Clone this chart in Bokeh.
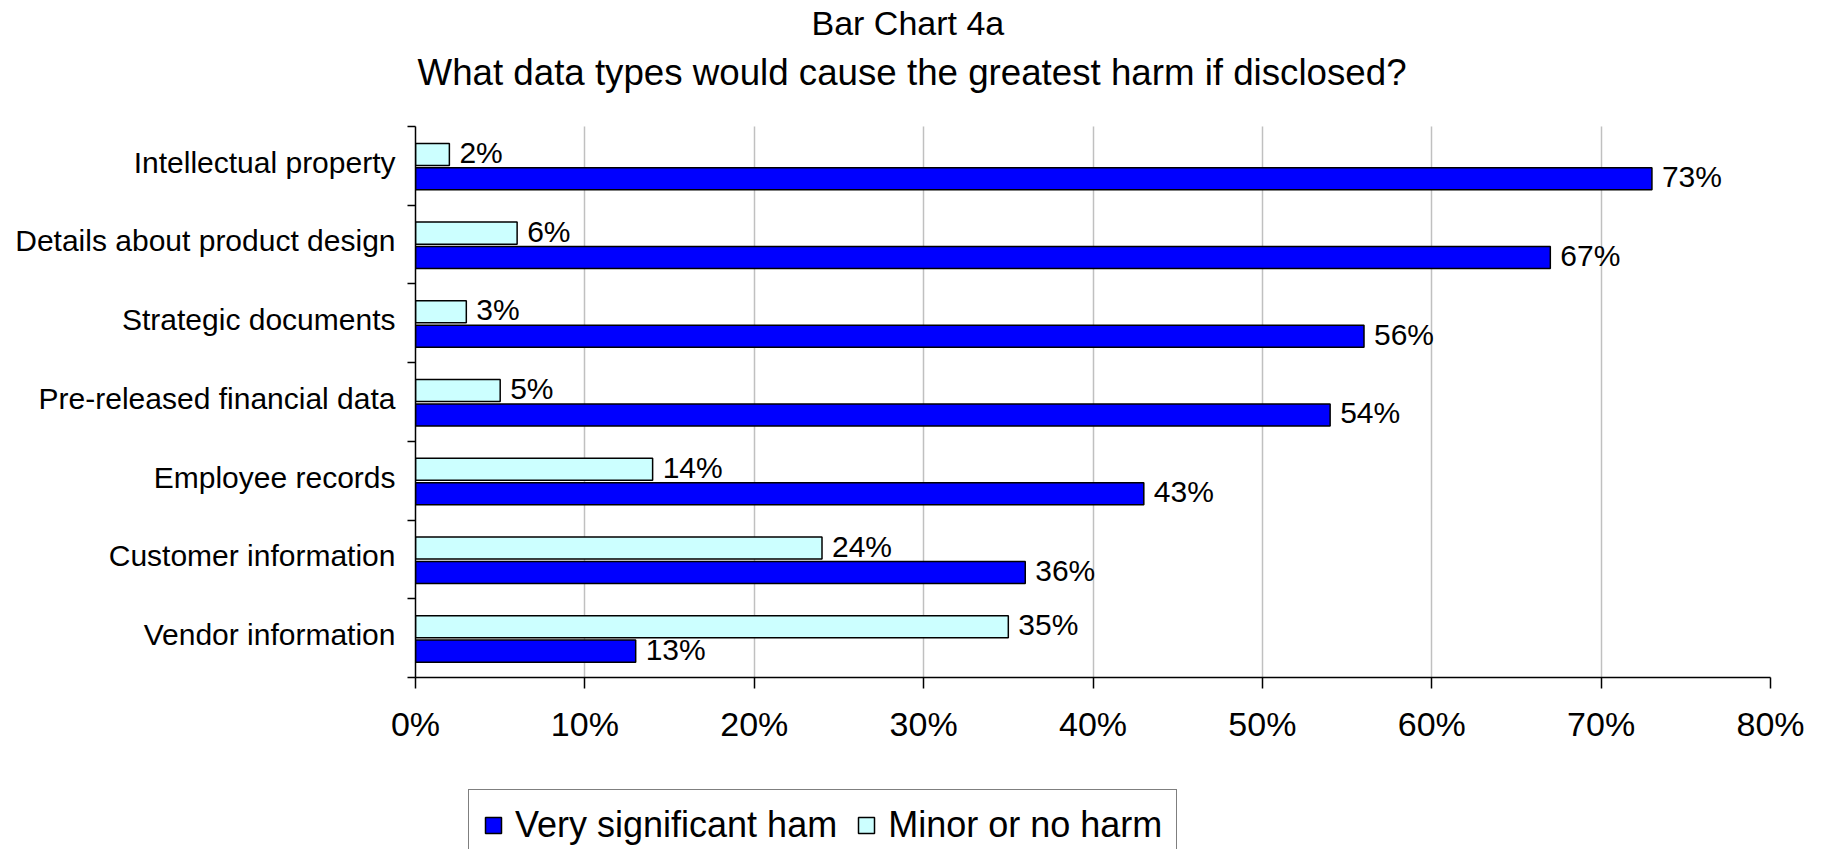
from bokeh.plotting import figure
from bokeh.layouts import column
from bokeh.models import (Range1d, FixedTicker, PrintfTickFormatter, Legend,
                          LegendItem, Title, ColumnDataSource)
from bokeh.core.properties import value
from bokeh.embed import file_html
from bokeh.resources import INLINE

# ---- data ----
categories = ["Intellectual property", "Details about product design",
              "Strategic documents", "Pre-released financial data",
              "Employee records", "Customer information", "Vendor information"]
very_significant = [73, 67, 56, 54, 43, 36, 13]
minor_or_none = [2, 6, 3, 5, 14, 24, 35]
x_ticks = [0, 10, 20, 30, 40, 50, 60, 70, 80]
series_names = ["Very significant ham", "Minor or no harm"]

FONT = "Liberation Sans"
BLUE = "#0000FF"
CYAN = "#CCFFFF"

n = len(categories)
centers = [n - i - 0.5 for i in range(n)]
label_pos = [c + 0.045 for c in centers]
boundaries = list(range(n + 1))

src = ColumnDataSource(dict(
    cat=categories,
    yc=centers,
    y_blue=[c - 0.165 for c in centers],
    y_cyan=[c + 0.145 for c in centers],
    very=very_significant,
    minor=minor_or_none,
    very_lbl=[f"{v}%" for v in very_significant],
    minor_lbl=[f"{v}%" for v in minor_or_none],
))

# layout constants (pixels)
MAIN_H = 770
FRAME_BOTTOM = 677
EST_FRAME_TOP = 97
y_top = n * (FRAME_BOTTOM - EST_FRAME_TOP) / (FRAME_BOTTOM - 125)

p = figure(width=1821, height=MAIN_H, output_backend="svg", toolbar_location=None,
           x_range=Range1d(0, 80), y_range=Range1d(0, y_top),
           min_border_left=415, min_border_right=51, min_border_top=0,
           min_border_bottom=MAIN_H - FRAME_BOTTOM, background_fill_color="white",
           border_fill_color="white")
p.outline_line_color = None

# titles (p.title is outermost; added titles stack toward the plot)
p.title.text = "Bar Chart 4a"
p.title.align = "left"
p.title.offset = 396
p.title.standoff = 3
p.title.text_font = FONT
p.title.text_font_size = "34px"
p.title.text_font_style = "normal"
p.title.text_color = "black"
p.add_layout(Title(text="What data types would cause the greatest harm if disclosed?",
                   align="left", offset=2, standoff=12,
                   text_font=FONT, text_font_size="36.7px",
                   text_font_style="normal", text_color="black"), "above")

# grid
p.xgrid.ticker = FixedTicker(ticks=x_ticks)
p.xgrid.grid_line_color = "#c0c0c0"
p.xgrid.grid_line_width = 1.5
p.xgrid.cross_bounds = (0, n)
p.ygrid.visible = False

# x axis
xa = p.xaxis[0]
xa.ticker = FixedTicker(ticks=x_ticks)
xa.formatter = PrintfTickFormatter(format="%d%%")
xa.major_tick_out = 11
xa.major_tick_in = 0
xa.minor_tick_line_color = None
xa.axis_line_width = 1.5
xa.major_tick_line_width = 1.5
xa.axis_line_color = "black"
xa.major_tick_line_color = "black"
xa.major_label_text_font = FONT
xa.major_label_text_font_size = "34px"
xa.major_label_text_color = "black"
xa.major_label_standoff = 16

# y axis: labels at category centres, tick marks at category boundaries
ya = p.yaxis[0]
ya.bounds = (0, n)
ya.ticker = FixedTicker(ticks=label_pos, minor_ticks=boundaries)
ya.major_tick_line_color = None
ya.major_tick_out = 8
ya.major_tick_in = 0
ya.minor_tick_out = 8
ya.minor_tick_in = 0
ya.minor_tick_line_color = "black"
ya.minor_tick_line_width = 1.5
ya.axis_line_width = 1.5
ya.axis_line_color = "black"
ya.major_label_overrides = {c: name for c, name in zip(label_pos, categories)}
ya.major_label_text_font = FONT
ya.major_label_text_font_size = "30px"
ya.major_label_text_color = "black"
ya.major_label_standoff = 12

# bars and labels
bar_style = dict(line_color="black", line_width=1.5)
p.hbar(y="y_blue", right="very", left=0, height=0.28, source=src,
       fill_color=BLUE, **bar_style)
p.text(x="very", y="y_blue", text="very_lbl", source=src, x_offset=10, y_offset=-2,
       text_baseline="middle", text_align="left", text_font=value(FONT),
       text_font_size="30px", text_color="black")
p.hbar(y="y_cyan", right="minor", left=0, height=0.28, source=src,
       fill_color=CYAN, **bar_style)
p.text(x="minor", y="y_cyan", text="minor_lbl", source=src, x_offset=10, y_offset=-2,
       text_baseline="middle", text_align="left", text_font=value(FONT),
       text_font_size="30px", text_color="black")

# ---- legend strip below the chart (frames are aligned with the chart's) ----
# the strip's renderers only supply the legend swatches; they have zero width
# and lie outside the strip's visible range.
LEG_H = 849 - MAIN_H
pl = figure(width=1821, height=LEG_H, output_backend="svg", toolbar_location=None,
            x_range=p.x_range, y_range=Range1d(100, 101),
            x_axis_location=None, y_axis_location=None, min_border=0,
            background_fill_color="white", border_fill_color="white")
pl.outline_line_color = None
pl.grid.visible = False
lb = pl.hbar(y="y_blue", left="very", right="very", height=0.28, source=src,
             fill_color=BLUE, **bar_style)
lc = pl.hbar(y="y_cyan", left="minor", right="minor", height=0.28, source=src,
             fill_color=CYAN, **bar_style)
legend = Legend(items=[LegendItem(label=series_names[0], renderers=[lb], index=0),
                       LegendItem(label=series_names[1], renderers=[lc], index=0)],
                orientation="horizontal", location=(53, -12), margin=0,
                padding=14, spacing=19, label_standoff=12,
                glyph_width=20, glyph_height=20,
                label_text_font=FONT, label_text_font_size="36px",
                label_text_color="black",
                border_line_color="black", border_line_width=1.5,
                background_fill_color="white", background_fill_alpha=1.0)
pl.add_layout(legend, "center")

layout = column(p, pl, spacing=0)
open("out.html", "w").write(file_html(layout, INLINE))
